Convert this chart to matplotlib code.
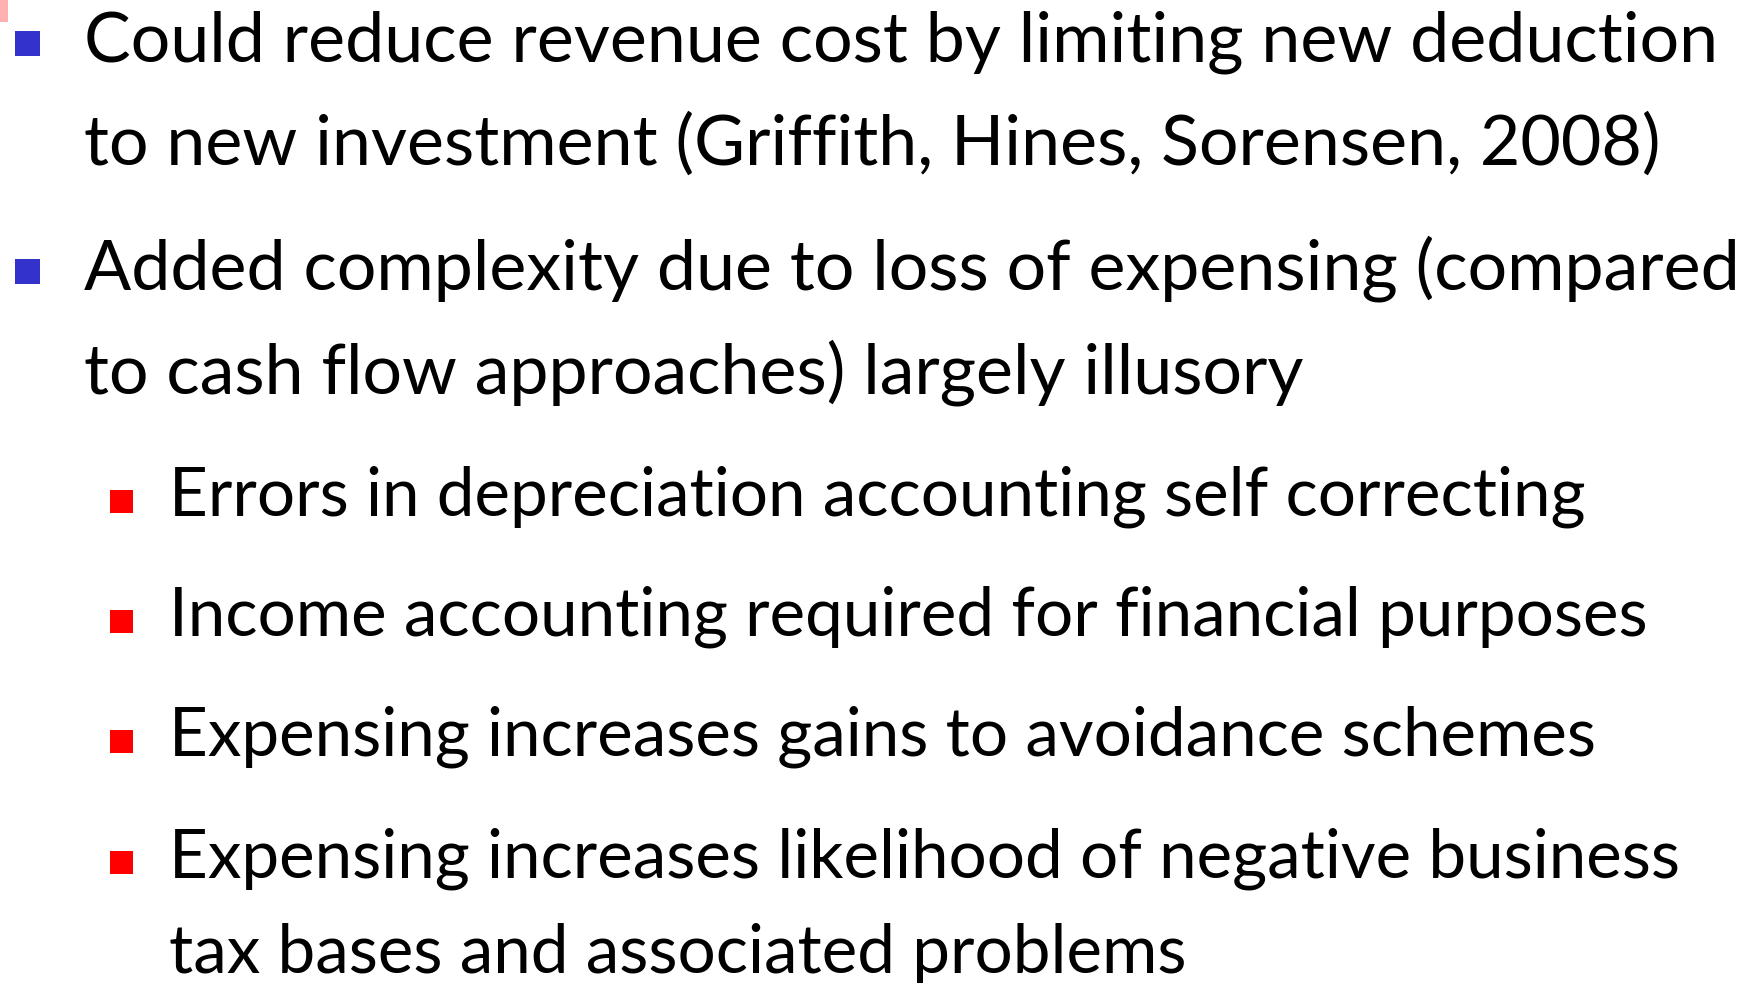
import matplotlib
matplotlib.use("Agg")
import matplotlib.pyplot as plt
from matplotlib.patches import Rectangle

W, H = 1758, 983

# slide content
line_texts = [
    "Could reduce revenue cost by limiting new deduction",
    "to new investment (Griffith, Hines, Sorensen, 2008)",
    "Added complexity due to loss of expensing (compared",
    "to cash flow approaches) largely illusory",
    "Errors in depreciation accounting self correcting",
    "Income accounting required for financial purposes",
    "Expensing increases gains to avoidance schemes",
    "Expensing increases likelihood of negative business",
    "tax bases and associated problems",
]
line_levels = [1, 1, 1, 1, 2, 2, 2, 2, 2]
line_has_bullet = [True, False, True, False, True, True, True, True, False]
line_baselines = [62, 165, 290, 393, 516, 636, 756, 877, 973]

level_x = {1: 84, 2: 169}
level_size = {1: 50.3, 2: 48.5}
bullet_color = {1: "#3333CC", 2: "#FF0000"}
bullet_x = {1: 15, 2: 110}
bullet_w = {1: 25, 2: 23}
bullet_rise = {1: 6, 2: 3}   # bottom of square above baseline

fig = plt.figure(figsize=(W / 100, H / 100), dpi=100)
fig.patch.set_facecolor("white")

def fx(px):
    return px / W

def fy(py):
    return 1 - py / H

# small pink corner mark
fig.patches.append(Rectangle((fx(0), fy(22)), 8 / W, 22 / H, transform=fig.transFigure,
                             facecolor="#FFB0B0", edgecolor="none"))

for txt, lev, bul, base in zip(line_texts, line_levels, line_has_bullet, line_baselines):
    fig.text(fx(level_x[lev]), fy(base), txt, fontsize=level_size[lev], family="Lato",
             color="black", va="baseline", ha="left")
    if bul:
        w = bullet_w[lev]
        bottom = base - bullet_rise[lev]
        fig.patches.append(Rectangle((fx(bullet_x[lev]), fy(bottom)), w / W, w / H,
                                     transform=fig.transFigure,
                                     facecolor=bullet_color[lev], edgecolor="none"))

fig.savefig("out.png", dpi=100, facecolor="white")
